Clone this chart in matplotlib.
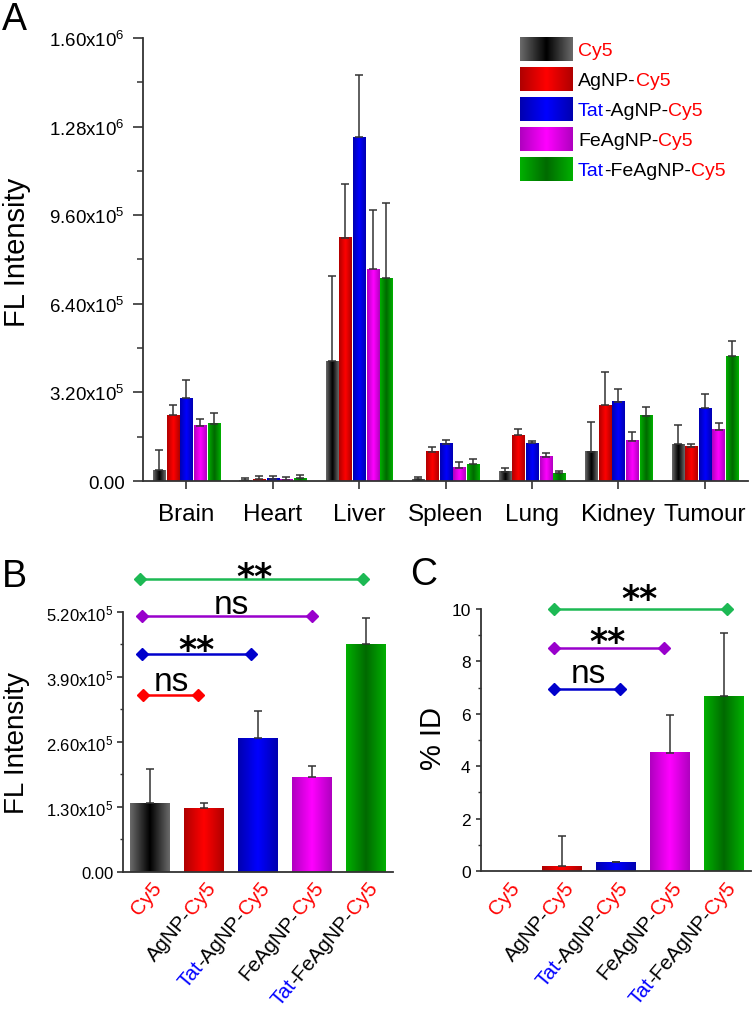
import numpy as np
import matplotlib
matplotlib.use("Agg")
import matplotlib.pyplot as plt
from matplotlib.colors import LinearSegmentedColormap
from matplotlib.ticker import FuncFormatter, MultipleLocator
import matplotlib.transforms as mtransforms

plt.rcParams['font.family'] = ['Liberation Sans', 'DejaVu Sans']
plt.rcParams['mathtext.fontset'] = 'custom'
plt.rcParams['mathtext.rm'] = 'Liberation Sans'
plt.rcParams['mathtext.default'] = 'regular'

# ---- data ----
organs = ['Brain', 'Heart', 'Liver', 'Spleen', 'Lung', 'Kidney', 'Tumour']
cy5 = [39e3, 2e3, 432e3, 6e3, 33e3, 105e3, 133e3]
cy5_err = [72e3, 8e3, 310e3, 10e3, 15e3, 108e3, 71e3]
agnp = [238e3, 7e3, 878e3, 106e3, 165e3, 273e3, 124e3]
agnp_err = [36e3, 10e3, 193e3, 17e3, 24e3, 119e3, 11e3]
tat_agnp = [299e3, 8e3, 1242e3, 135e3, 137e3, 286e3, 262e3]
tat_agnp_err = [65e3, 9e3, 226e3, 13e3, 8e3, 46e3, 54e3]
feagnp = [199e3, 5e3, 765e3, 48e3, 87e3, 145e3, 185e3]
feagnp_err = [26e3, 9e3, 213e3, 22e3, 13e3, 33e3, 24e3]
tat_feagnp = [207e3, 10e3, 733e3, 60e3, 28e3, 236e3, 450e3]
tat_feagnp_err = [37e3, 10e3, 272e3, 18e3, 9e3, 33e3, 54e3]

# tumour only, panel B (FL intensity) and C (% ID)
tumour_fl = [137e3, 128e3, 267e3, 189e3, 455e3]
tumour_fl_err = [69e3, 9e3, 54e3, 23e3, 53e3]
pct_id = [0, 0.18, 0.33, 4.51, 6.67]
pct_id_err = [0, 1.14, 0.03, 1.45, 2.40]

# significance brackets
sig_b_y = [354e3, 436e3, 512e3, 585e3]
sig_b_x0 = [0.87, 0.86, 0.85, 0.82]
sig_b_x1 = [1.89, 2.88, 4.00, 4.94]
sig_b_txt = ['ns', '**', 'ns', '**']
sig_b_tx = [1.40, 1.86, 2.51, 2.94]
sig_b_ty = [386e3, 463e3, 540e3, 610e3]

sig_c_y = [6.93, 8.53, 10.0]
sig_c_x0 = [1.86, 1.86, 1.86]
sig_c_x1 = [3.07, 3.88, 5.05]
sig_c_txt = ['ns', '**', '**']
sig_c_tx = [2.48, 2.85, 3.44]
sig_c_ty = [7.65, 9.11, 10.76]

# label pieces (text, colour)
RED, BLUE, BLK = '#ff0000', '#0000ff', '#000000'
names = [
    [('Cy5', RED)],
    [('AgNP-', BLK), ('Cy5', RED)],
    [('Tat', BLUE), ('-AgNP-', BLK), ('Cy5', RED)],
    [('FeAgNP-', BLK), ('Cy5', RED)],
    [('Tat', BLUE), ('-FeAgNP-', BLK), ('Cy5', RED)],
]

edge_cols = ['#6a6a6a', '#b00000', '#0000b0', '#b000c0', '#00b000']
mid_cols = ['#000000', '#ff0000', '#0000ff', '#ff00ff', '#006a00']
sig_b_cols = ['#ff0000', '#0000cc', '#9900cc', '#1db954']
sig_c_cols = ['#0000cc', '#9900cc', '#1db954']

grad = 1 - np.abs(np.linspace(-1, 1, 64))[None, :]
cmaps = [LinearSegmentedColormap.from_list('c%d' % i, [e, m])
         for i, (e, m) in enumerate(zip(edge_cols, mid_cols))]

fig = plt.figure(figsize=(7.53, 10.12), dpi=100)
renderer = fig.canvas.get_renderer()


def gradient_bars(ax, bars, cmap):
    for p in bars:
        h = p.get_height()
        if h <= 0:
            continue
        x0 = p.get_x()
        ax.imshow(grad, extent=(x0, x0 + p.get_width(), 0, h), aspect='auto',
                  cmap=cmap, vmin=0, vmax=1, interpolation='bilinear', zorder=2)


def rainbow(ax, xy, trans, pieces, size, angle=0, align='left', off=(0, 0)):
    widths = []
    for s, c in pieces:
        t = ax.text(0, 0, s, fontsize=size)
        widths.append(t.get_window_extent(renderer).width * 72 / fig.dpi)
        t.remove()
    pos = 0 if align == 'left' else -sum(widths)
    ca, sa = np.cos(np.deg2rad(angle)), np.sin(np.deg2rad(angle))
    for (s, c), w in zip(pieces, widths):
        ax.annotate(s, xy=xy, xycoords=trans,
                    xytext=(off[0] + pos * ca, off[1] + pos * sa),
                    textcoords='offset points', rotation=angle,
                    rotation_mode='anchor', ha='left', va='baseline',
                    color=c, fontsize=size, annotation_clip=False)
        pos += w


def sci_fmt(v, pos):
    if v == 0:
        return '0.00'
    e = int(np.floor(np.log10(v)))
    return '%.2fx10$^{%d}$' % (v / 10 ** e, e)


def style_axes(ax, lw=1.3):
    for s in ['top', 'right']:
        ax.spines[s].set_visible(False)
    for s in ['left', 'bottom']:
        ax.spines[s].set_linewidth(lw)
        ax.spines[s].set_color('#333333')


def sig_labels(ax, txts, xs, ys):
    for s, x, y in zip(txts, xs, ys):
        if s == '**':
            ax.annotate(s, xy=(x, y), xytext=(0, -7), textcoords='offset points',
                        ha='center', va='center', fontsize=25, fontweight='bold',
                        family='DejaVu Sans', annotation_clip=False)
        else:
            ax.annotate(s, xy=(x, y), xytext=(0, -2), textcoords='offset points',
                        ha='center', va='center', fontsize=24, annotation_clip=False)


# ---------------- panel A ----------------
axA = fig.add_axes([0.190, 0.5237, 0.8035, 0.4378])
style_axes(axA)
series = [cy5, agnp, tat_agnp, feagnp, tat_feagnp]
errs = [cy5_err, agnp_err, tat_agnp_err, feagnp_err, tat_feagnp_err]
xA = np.arange(1, len(organs) + 1)
for i, (vals, er) in enumerate(zip(series, errs)):
    xs = xA + (i - 2) * 0.158
    bars = axA.bar(xs, vals, width=0.14, color=mid_cols[i], zorder=1)
    gradient_bars(axA, bars, cmaps[i])
    axA.errorbar(xs, vals, yerr=[np.zeros(len(vals)), er], fmt='none',
                 ecolor='#333333', elinewidth=1.1, capsize=3, capthick=1.1, zorder=3)
axA.set_xlim(0.5, 7.5)
axA.set_ylim(0, 1.6e6)
axA.set_xticks(xA)
axA.set_xticklabels(organs, fontsize=17.5)
axA.set_yticks(np.arange(0, 1.61e6, 3.2e5))
axA.yaxis.set_major_formatter(FuncFormatter(sci_fmt))
axA.yaxis.set_minor_locator(MultipleLocator(1.6e5))
axA.tick_params(axis='y', which='major', length=7, width=1.2, pad=6, labelsize=13.5, color='#333333')
axA.tick_params(axis='y', which='minor', length=4, width=1.1, color='#333333')
axA.tick_params(axis='x', which='major', length=6, width=1.2, pad=10, color='#333333')
axA.text(-0.208, 0.519, 'FL Intensity', transform=axA.transAxes, rotation=90,
         ha='center', va='center', fontsize=21)

# legend
for i, pieces in enumerate(names):
    yc = 0.975 - i * 0.0677
    sw = axA.inset_axes([0.623, yc - 0.027, 0.086, 0.054])
    sw.imshow(grad, aspect='auto', cmap=cmaps[i], vmin=0, vmax=1, interpolation='bilinear')
    sw.set_axis_off()
    rainbow(axA, (0.719, yc - 0.0145), axA.transAxes, pieces, 14)

# ---------------- panel B ----------------
axB = fig.add_axes([0.1633, 0.1374, 0.3586, 0.2569])
style_axes(axB)
x5 = np.arange(1, 6)
for i in range(5):
    bars = axB.bar(x5[i], tumour_fl[i], width=0.74, color=mid_cols[i], zorder=1)
    gradient_bars(axB, bars, cmaps[i])
axB.errorbar(x5, tumour_fl, yerr=[np.zeros(5), tumour_fl_err], fmt='none',
             ecolor='#333333', elinewidth=1.1, capsize=3, capthick=1.1, zorder=3)
axB.set_xlim(0.5, 5.5)
axB.set_ylim(0, 5.2e5)
axB.set_yticks(np.arange(0, 5.21e5, 1.3e5))
axB.yaxis.set_major_formatter(FuncFormatter(sci_fmt))
axB.yaxis.set_minor_locator(MultipleLocator(0.65e5))
axB.tick_params(axis='y', which='major', length=4, width=1.2, pad=3, labelsize=12, color='#333333')
axB.tick_params(axis='y', which='minor', length=2.5, width=1.0, color='#333333')
axB.set_xticks([])
axB.text(-0.393, 0.5, 'FL Intensity', transform=axB.transAxes, rotation=90,
         ha='center', va='center', fontsize=20)
for y, x0, x1, c in zip(sig_b_y, sig_b_x0, sig_b_x1, sig_b_cols):
    axB.plot([x0, x1], [y, y], color=c, lw=1.8, marker='D', markersize=6, clip_on=False, zorder=4)
sig_labels(axB, sig_b_txt, sig_b_tx, sig_b_ty)

# ---------------- panel C ----------------
axC = fig.add_axes([0.6388, 0.1383, 0.3586, 0.2589])
style_axes(axC)
for i in range(5):
    bars = axC.bar(x5[i], pct_id[i], width=0.74, color=mid_cols[i], zorder=1)
    gradient_bars(axC, bars, cmaps[i])
has_err = [i for i in range(5) if pct_id_err[i] > 0]
axC.errorbar(x5[has_err], np.array(pct_id)[has_err],
             yerr=[np.zeros(len(has_err)), np.array(pct_id_err)[has_err]], fmt='none',
             ecolor='#333333', elinewidth=1.1, capsize=3, capthick=1.1, zorder=3)
axC.set_xlim(0.5, 5.5)
axC.set_ylim(0, 10)
axC.set_yticks(np.arange(0, 11, 2))
axC.yaxis.set_minor_locator(MultipleLocator(1))
axC.tick_params(axis='y', which='major', length=3.5, width=1.2, pad=4, labelsize=12.5, color='#333333')
axC.tick_params(axis='y', which='minor', length=2, width=1.0, color='#333333')
axC.set_xticks([])
axC.text(-0.178, 0.51, '% ID', transform=axC.transAxes, rotation=90,
         ha='center', va='center', fontsize=21)
for y, x0, x1, c in zip(sig_c_y, sig_c_x0, sig_c_x1, sig_c_cols):
    axC.plot([x0, x1], [y, y], color=c, lw=1.8, marker='D', markersize=6, clip_on=False, zorder=4)
sig_labels(axC, sig_c_txt, sig_c_tx, sig_c_ty)

# rotated multi-colour category labels for B and C
for ax in (axB, axC):
    trans = mtransforms.blended_transform_factory(ax.transData, ax.transAxes)
    for x, pieces in zip(x5, names):
        rainbow(ax, (x, 0), trans, pieces, 14.8, angle=50, align='right', off=(9, -11.5))

# panel letters
fig.text(0.003, 0.9704, 'A', fontsize=27)
fig.text(0.003, 0.420, 'B', fontsize=27)
fig.text(0.5445, 0.422, 'C', fontsize=27)

fig.savefig('out.png', dpi=100)
